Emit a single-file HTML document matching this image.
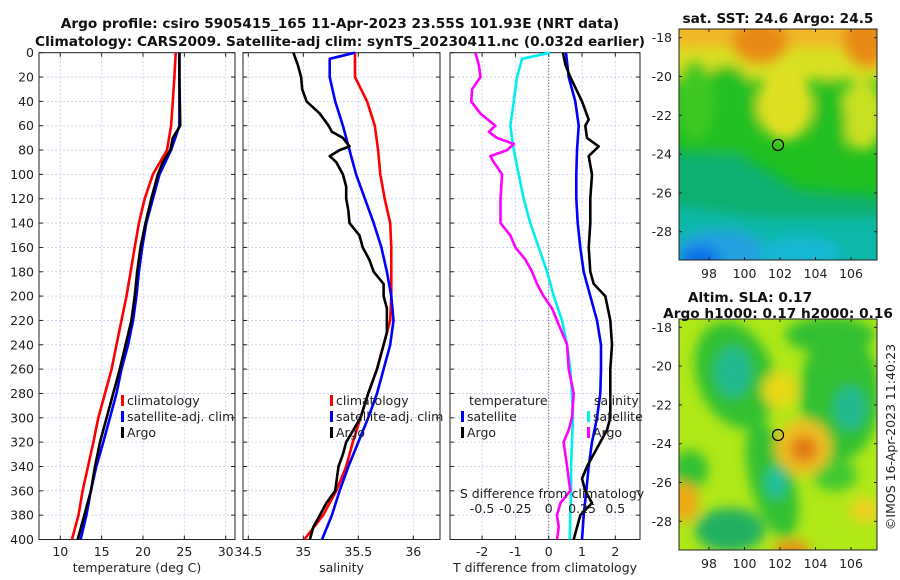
<!DOCTYPE html>
<html><head><meta charset="utf-8">
<style>
html,body{margin:0;padding:0;background:#fff;}
svg{display:block;font-family:"DejaVu Sans","Liberation Sans",sans-serif;}
.t{font-size:12.5px;fill:#222;}
.b{font-size:13.7px;font-weight:bold;fill:#111;}
</style></head>
<body>
<svg id="c" width="900" height="580" viewBox="0 0 900 580" xmlns="http://www.w3.org/2000/svg">
<defs>
<filter id="bl" x="-50%" y="-50%" width="200%" height="200%"><feGaussianBlur stdDeviation="6"/></filter>
<filter id="bl2" x="-50%" y="-50%" width="200%" height="200%"><feGaussianBlur stdDeviation="6"/></filter>
<clipPath id="cp1"><rect x="679" y="29" width="198" height="231"/></clipPath>
<clipPath id="cp2"><rect x="679" y="319" width="198" height="231"/></clipPath>
</defs>
<text class="b" x="340" y="28" text-anchor="middle">Argo profile: csiro 5905415_165 11-Apr-2023 23.55S 101.93E (NRT data)</text>
<text class="b" x="340" y="46" text-anchor="middle">Climatology: CARS2009. Satellite-adj clim: synTS_20230411.nc (0.032d earlier)</text>

<g clip-path="url(#cp1)">
<rect x="679" y="29" width="198" height="231" fill="#20c020"/>
<g filter="url(#bl)">
<rect x="660" y="10" width="240" height="70" fill="#d8e020"/>
<ellipse cx="785" cy="105" rx="28" ry="35" fill="#e0e020"/>
<ellipse cx="862" cy="115" rx="22" ry="35" fill="#c8e020"/>
<rect x="660" y="10" width="240" height="38" fill="#f0b828"/>
<ellipse cx="760" cy="42" rx="28" ry="22" fill="#e88a14"/>
<ellipse cx="868" cy="40" rx="25" ry="28" fill="#e88a14"/>
<ellipse cx="727" cy="115" rx="30" ry="50" fill="#20c020"/>
<ellipse cx="830" cy="130" rx="16" ry="50" fill="#20c020"/>
<ellipse cx="695" cy="100" rx="18" ry="40" fill="#40c820"/>
<polygon points="660,150 740,155 800,190 900,198 900,290 660,290" fill="#10b070"/>
<polygon points="660,205 760,218 900,218 900,290 660,290" fill="#10b8a8"/>
<ellipse cx="720" cy="252" rx="45" ry="22" fill="#20a0e0"/>
<ellipse cx="700" cy="258" rx="20" ry="12" fill="#1070e8"/>
<ellipse cx="800" cy="252" rx="40" ry="14" fill="#18b8d8"/>
</g>
</g>
<rect x="679" y="29" width="198" height="231" fill="none" stroke="#222" stroke-width="1"/>
<circle cx="778" cy="145" r="5.5" fill="none" stroke="#000" stroke-width="1.2"/>
<text class="b" x="778" y="23" text-anchor="middle">sat. SST: 24.6 Argo: 24.5</text>

<g clip-path="url(#cp2)">
<rect x="679" y="319" width="198" height="231" fill="#b0e818"/>
<g filter="url(#bl2)">
<ellipse cx="735" cy="375" rx="38" ry="55" transform="rotate(-20 735 375)" fill="#30c030"/>
<ellipse cx="733" cy="372" rx="18" ry="25" fill="#20b890"/>
<ellipse cx="772" cy="480" rx="22" ry="60" transform="rotate(-15 772 480)" fill="#30c030"/>
<ellipse cx="776" cy="483" rx="10" ry="16" fill="#20c0a0"/>
<ellipse cx="840" cy="395" rx="40" ry="65" fill="#30c030"/>
<ellipse cx="850" cy="408" rx="16" ry="22" fill="#20b890"/>
<ellipse cx="830" cy="335" rx="45" ry="18" fill="#30c030"/>
<ellipse cx="730" cy="530" rx="35" ry="22" fill="#20b060"/>
<ellipse cx="690" cy="470" rx="18" ry="20" fill="#30c030"/>
<ellipse cx="835" cy="475" rx="22" ry="16" fill="#40c830"/>
<ellipse cx="780" cy="390" rx="18" ry="18" fill="#e8d818"/>
<ellipse cx="803" cy="447" rx="28" ry="28" fill="#f0c020"/>
<ellipse cx="804" cy="449" rx="14" ry="14" fill="#e07818"/>
<ellipse cx="683" cy="502" rx="16" ry="20" fill="#f0a818"/>
<ellipse cx="792" cy="550" rx="18" ry="10" fill="#e89018"/>
<ellipse cx="865" cy="510" rx="15" ry="12" fill="#f0d020"/>
</g>
</g>
<rect x="679" y="319" width="198" height="231" fill="none" stroke="#222" stroke-width="1"/>
<circle cx="778" cy="435" r="5.5" fill="none" stroke="#000" stroke-width="1.2"/>
<text class="b" x="750" y="302" text-anchor="middle">Altim. SLA: 0.17</text>
<text class="b" x="778" y="318" text-anchor="middle">Argo h1000: 0.17 h2000: 0.16</text>
<text class="t" x="0" y="0" transform="translate(895 437) rotate(-90)" text-anchor="middle">©IMOS 16-Apr-2023 11:40:23</text>
<g id="dyn"></g>
</svg>
<script>
// ---- data ----
var depths = [0,20,40,60,80,100,120,140,160,180,200,220,240,260,280,300,320,340,360,380,400];
var tempClim = [23.95,23.8,23.6,23.4,22.9,21.2,20.2,19.5,19.0,18.5,18.0,17.4,16.8,16.2,15.4,14.6,14.0,13.35,12.7,12.2,11.4];
var tempSat  = [24.4,24.4,24.4,24.4,23.4,22.0,21.2,20.4,19.9,19.5,19.2,18.8,18.2,17.4,16.8,16.0,15.2,14.35,13.7,13.15,12.45];
var argoTDepths = [0,20,40,60,70,80,90,100,120,140,160,180,200,220,240,260,280,300,320,340,360,380,400];
var tempArgo = [24.4,24.4,24.45,24.5,23.6,23.3,22.4,21.8,21.0,20.3,19.7,19.3,19.0,18.6,17.9,17.2,16.4,15.6,14.8,14.2,13.7,12.9,12.1];
var salClim = [35.47,35.47,35.58,35.65,35.68,35.70,35.74,35.79,35.80,35.80,35.80,35.79,35.73,35.67,35.59,35.52,35.45,35.39,35.30,35.18,35.01];
var satSDepths = [0,5,20,40,60,80,100,120,140,160,180,200,220,240,260,280,300,320,340,360,380,400];
var salSat = [35.47,35.24,35.24,35.29,35.36,35.42,35.48,35.56,35.64,35.71,35.76,35.80,35.82,35.79,35.73,35.67,35.59,35.50,35.41,35.33,35.26,35.17];
var argoSDepths = [0,10,20,30,40,50,60,65,70,77,80,85,90,100,110,120,130,140,150,160,170,180,190,200,210,220,230,240,260,280,300,320,330,340,360,370,380,390,400];
var salArgo = [34.91,34.95,34.98,34.99,35.03,35.15,35.23,35.26,35.36,35.42,35.33,35.24,35.30,35.36,35.39,35.39,35.41,35.42,35.51,35.54,35.60,35.64,35.73,35.73,35.76,35.76,35.76,35.73,35.67,35.59,35.52,35.39,35.36,35.32,35.29,35.21,35.15,35.09,35.06];
var dtSatDepths = [0,20,40,60,80,100,120,140,160,180,200,220,240,260,280,300,320,340,360,380,400];
var dtSat = [0.52,0.6,0.8,0.9,0.85,0.83,0.83,0.87,0.95,1.05,1.25,1.45,1.57,1.57,1.55,1.45,1.3,1.2,1.13,1.05,1.0];
var dtArgoDepths = [0,10,20,40,55,60,70,77,85,100,120,140,160,180,190,200,220,240,260,280,300,310,320,340,350,360,370,380,390,400];
var dtArgo = [0.43,0.5,0.65,1.0,1.2,1.1,1.15,1.5,1.2,1.3,1.25,1.25,1.2,1.25,1.35,1.7,1.85,1.9,1.85,1.85,1.85,1.75,1.55,1.15,1.0,1.1,1.3,0.95,0.85,0.75];
var dsSatDepths = [0,5,20,40,60,80,100,120,140,160,180,200,220,240,260,280,300,320,340,360,380,400];
var dsSat = [0.012,-0.2,-0.238,-0.262,-0.288,-0.262,-0.225,-0.188,-0.138,-0.075,-0.012,0.038,0.1,0.138,0.162,0.175,0.182,0.175,0.168,0.168,0.162,0.158];
var dsArgoDepths = [0,10,20,30,40,50,60,65,70,75,80,85,90,100,120,140,150,160,170,180,190,200,210,220,240,260,280,300,310,320,340,360,370,380,390,400];
var dsArgo = [-0.55,-0.525,-0.512,-0.575,-0.582,-0.512,-0.4,-0.45,-0.388,-0.262,-0.312,-0.438,-0.412,-0.35,-0.362,-0.362,-0.288,-0.25,-0.175,-0.125,-0.088,-0.038,0.025,0.062,0.138,0.15,0.188,0.175,0.15,0.112,0.138,0.162,0.088,0.062,0.075,0.062];
var depthTicks = [0,20,40,60,80,100,120,140,160,180,200,220,240,260,280,300,320,340,360,380,400];
var tTicks = [10,15,20,25,30];
var sTicks = [34.5,35,35.5,36];
var dTicks = [-2,-1,0,1,2];
var dsTicks = [-0.5,-0.25,0,0.25,0.5];
var latTicks = [-18,-20,-22,-24,-26,-28];
var lonTicks = [98,100,102,104,106];

var NS='http://www.w3.org/2000/svg';
var root=document.getElementById('dyn');
var Y0=52.7, Y1=539.5;
function yD(d){return Y0+(d/400)*(Y1-Y0);}
var P1={x0:39,x1:235,k:8.27,ref:10,refx:60.3};
var P2={x0:243,x1:440,k:110,ref:34.5,refx:248.3};
var P3={x0:450,x1:640,k:33.3,ref:0,refx:548.7};
function xP(p,v){return p.refx+(v-p.ref)*p.k;}
function mk(tag,attrs,parent){var e=document.createElementNS(NS,tag);for(var a in attrs)e.setAttribute(a,attrs[a]);(parent||root).appendChild(e);return e;}

function panel(p,name,xt,xtitle,showY){
  var g=mk('g',{});
  
  
  depthTicks.forEach(function(d){
    var l=mk('line',{x1:p.x0,x2:p.x1,y1:yD(d),y2:yD(d),stroke:'#c8cde8','stroke-width':0.8,'stroke-dasharray':'2,2'},g);
    
    
    mk('line',{x1:p.x0,x2:p.x0+4,y1:yD(d),y2:yD(d),stroke:'#222'},g);
    mk('line',{x1:p.x1,x2:p.x1-4,y1:yD(d),y2:yD(d),stroke:'#222'},g);
    if(showY){var t=mk('text',{x:p.x0-5,y:yD(d)+4.5,'text-anchor':'end','class':'t'},g);t.textContent=d;
      
      }
  });
  xt.forEach(function(v){
    var x=xP(p,v);
    mk('line',{x1:x,x2:x,y1:Y0,y2:Y1,stroke:'#c8cde8','stroke-width':0.8,'stroke-dasharray':'2,2'},g);
    mk('line',{x1:x,x2:x,y1:Y1,y2:Y1-4,stroke:'#222'},g);
    mk('line',{x1:x,x2:x,y1:Y0,y2:Y0+4,stroke:'#222'},g);
    var t=mk('text',{x:x,y:556,'text-anchor':'middle','class':'t'},g);t.textContent=v;
    
    
  });
  mk('rect',{x:p.x0,y:Y0,width:p.x1-p.x0,height:Y1-Y0,fill:'none',stroke:'#222','stroke-width':1},g);
  var tt=mk('text',{x:(p.x0+p.x1)/2,y:572,'text-anchor':'middle','class':'t'},g);tt.textContent=xtitle;
  
  
  return g;
}
function line(p,ds,vs,color,name,sc){
  sc=sc||1;
  var pts=ds.map(function(d,i){return xP(p,vs[i]*sc).toFixed(1)+','+yD(d).toFixed(1);}).join(' ');
  var l=mk('polyline',{points:pts,fill:'none',stroke:color,'stroke-width':2.6,'stroke-linejoin':'round'});
  
  
}
function legItem(x,y,color,label,name){
  var r=mk('rect',{x:x,y:y-10,width:3,height:11,fill:color});
  
  
  var t=mk('text',{x:x+6,y:y,'class':'t'});t.textContent=label;
  
  
}

panel(P1,'temperature-panel',tTicks,'temperature (deg C)',true);
panel(P2,'salinity-panel',sTicks,'salinity',false);
panel(P3,'difference-panel',dTicks,'T difference from climatology',false);
var z=mk('line',{x1:xP(P3,0),x2:xP(P3,0),y1:Y0,y2:Y1,stroke:'#444','stroke-width':1,'stroke-dasharray':'1,2'});



line(P1,depths,tempClim,'#ff0000','temp-climatology-line');
line(P1,depths,tempSat,'#0000ff','temp-satellite-line');
line(P1,argoTDepths,tempArgo,'#000000','temp-argo-line');
line(P2,depths,salClim,'#ff0000','sal-climatology-line');
line(P2,satSDepths,salSat,'#0000ff','sal-satellite-line');
line(P2,argoSDepths,salArgo,'#000000','sal-argo-line');
line(P3,dsSatDepths,dsSat,'#00eeee','sdiff-satellite-line',4);
line(P3,dsArgoDepths,dsArgo,'#ff00ff','sdiff-argo-line',4);
line(P3,dtSatDepths,dtSat,'#0000ff','tdiff-satellite-line');
line(P3,dtArgoDepths,dtArgo,'#000000','tdiff-argo-line');

dsTicks.forEach(function(v){
  var t=mk('text',{x:xP(P3,v*4),y:513,'text-anchor':'middle','class':'t'});t.textContent=v;
  
  
});
var st=mk('text',{x:552,y:498,'text-anchor':'middle','class':'t'});st.textContent='S difference from climatology';



legItem(121,405,'#ff0000','climatology','legend-climatology');
legItem(121,421,'#0000ff','satellite-adj. clim','legend-satellite');
legItem(121,437,'#000000','Argo','legend-argo');
legItem(330,405,'#ff0000','climatology','legend2-climatology');
legItem(330,421,'#0000ff','satellite-adj. clim','legend2-satellite');
legItem(330,437,'#000000','Argo','legend2-argo');
var lt=mk('text',{x:469,y:405,'class':'t'});lt.textContent='temperature';


var ls=mk('text',{x:594,y:405,'class':'t'});ls.textContent='salinity';


legItem(461,421,'#0000ff','satellite','legend-tdiff-satellite');
legItem(461,437,'#000000','Argo','legend-tdiff-argo');
legItem(587,421,'#00eeee','satellite','legend-sdiff-satellite');
legItem(587,437,'#ff00ff','Argo','legend-sdiff-argo');

function mapAxes(top,bottom,lat18y,name){
  var g=mk('g',{});
  
  
  latTicks.forEach(function(la){
    var y=lat18y+(-18-la)*19.4;
    mk('line',{x1:679,x2:682,y1:y,y2:y,stroke:'#222'},g);
    mk('line',{x1:877,x2:874,y1:y,y2:y,stroke:'#222'},g);
    var t=mk('text',{x:672,y:y+4.5,'text-anchor':'end','class':'t'},g);t.textContent=la;
    
    
  });
  lonTicks.forEach(function(lo){
    var x=709+(lo-98)*17.75;
    mk('line',{x1:x,x2:x,y1:bottom,y2:bottom-3,stroke:'#222'},g);
    mk('line',{x1:x,x2:x,y1:top,y2:top+3,stroke:'#222'},g);
    var t=mk('text',{x:x,y:bottom+18,'text-anchor':'middle','class':'t'},g);t.textContent=lo;
    
    
  });
}
mapAxes(29,260,37.7,'sst-map-axes');
mapAxes(319,550,327.3,'sla-map-axes');
</script>
</body></html>
